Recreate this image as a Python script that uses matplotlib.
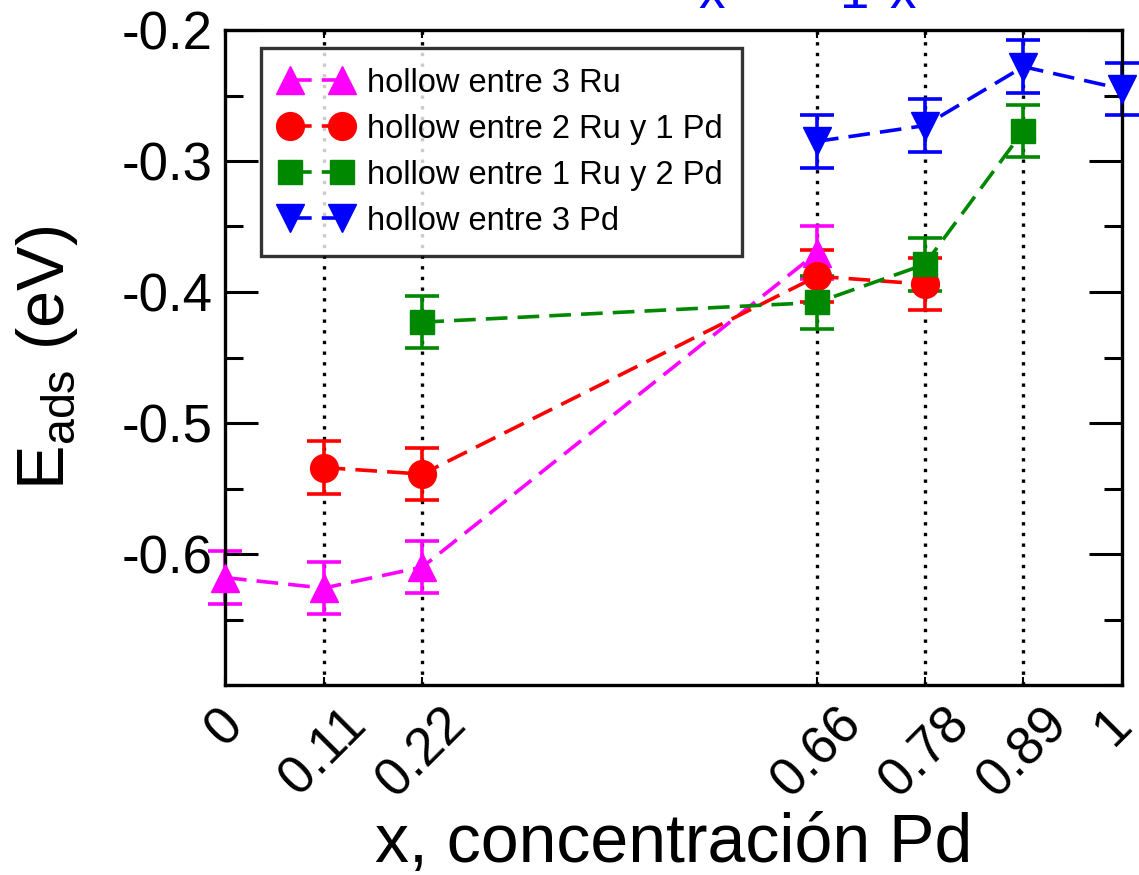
import matplotlib
matplotlib.use("Agg")
import matplotlib.pyplot as plt
from matplotlib.ticker import MultipleLocator
from matplotlib.transforms import ScaledTranslation

plt.rcParams['font.family'] = ['Liberation Sans', 'DejaVu Sans']
plt.rcParams['mathtext.fontset'] = 'custom'
plt.rcParams['mathtext.rm'] = 'Liberation Sans'

# --- data ---
x_ticks = [0, 0.11, 0.22, 0.66, 0.78, 0.89, 1]
x_tick_labels = ['0', '0.11', '0.22', '0.66', '0.78', '0.89', '1']
guide_x = [0.11, 0.22, 0.66, 0.78, 0.89]

x_3ru = [0, 0.11, 0.22, 0.66]
e_3ru = [-0.618, -0.626, -0.610, -0.370]

x_2ru1pd = [0.11, 0.22, 0.66, 0.78]
e_2ru1pd = [-0.534, -0.539, -0.388, -0.394]

x_1ru2pd = [0.22, 0.66, 0.78, 0.89]
e_1ru2pd = [-0.423, -0.408, -0.379, -0.277]

x_3pd = [0.66, 0.78, 0.89, 1]
e_3pd = [-0.285, -0.273, -0.228, -0.245]

err = 0.02

series = [
    (x_3ru, e_3ru, 'hollow entre 3 Ru', '#ff00ff', '^', 20),
    (x_2ru1pd, e_2ru1pd, 'hollow entre 2 Ru y 1 Pd', '#ff0000', 'o', 20),
    (x_1ru2pd, e_1ru2pd, 'hollow entre 1 Ru y 2 Pd', '#008800', 's', 17),
    (x_3pd, e_3pd, 'hollow entre 3 Pd', '#0000ff', 'v', 20),
]

fig = plt.figure(figsize=(11.39, 8.75), dpi=100)
ax = fig.add_axes([225 / 1139, 1 - 685 / 875, 897 / 1139, 655 / 875])

for gx in guide_x:
    ax.axvline(gx, color='black', linestyle=(0, (1, 2.2)), linewidth=2.4, zorder=1)

for xs, ys, label, color, marker, ms in series:
    ax.errorbar(xs, ys, yerr=err, fmt='none', ecolor=color, elinewidth=2.6,
                capsize=12, capthick=2.6, zorder=2, clip_on=False)
    ax.plot(xs, ys, linestyle=(0, (6, 2.8)), linewidth=2.6, color=color,
            marker=marker, markersize=ms, label=label, zorder=3, clip_on=False)

ax.set_xlim(0, 1)
ax.set_ylim(-0.7, -0.2)
ax.set_xticks(x_ticks)
ax.set_xticklabels(x_tick_labels, rotation=45, ha='center', va='top')
ax.yaxis.set_major_locator(MultipleLocator(0.1))
ax.yaxis.set_minor_locator(MultipleLocator(0.05))
ax.set_yticks([-0.2, -0.3, -0.4, -0.5, -0.6])
ax.set_yticklabels(['-0.2', '-0.3', '-0.4', '-0.5', '-0.6'])

ax.tick_params(axis='y', which='major', direction='in', length=24, width=2.2,
               labelsize=38, pad=9, left=True, right=True)
ax.tick_params(axis='y', which='minor', direction='in', length=13, width=2.2,
               left=True, right=True)
ax.tick_params(axis='x', which='major', direction='in', length=6, width=1.5,
               labelsize=38, pad=10, top=True, bottom=True)
for s in ax.spines.values():
    s.set_linewidth(2.4)

# last tick label sits at the right edge; pull it in a little
last = ax.get_xticklabels()[-1]
last.set_transform(last.get_transform() + ScaledTranslation(-9 / 100, 0, fig.dpi_scale_trans))

ax.set_xlabel('x, concentración Pd', fontsize=49, labelpad=4)
ax.set_ylabel(r'E$_\mathregular{ads}$ (eV)', fontsize=48, labelpad=30)

leg = ax.legend(loc='upper left', bbox_to_anchor=(0.040, 0.9725), numpoints=2,
                fontsize=23.5, handlelength=2.2, frameon=True, fancybox=False,
                borderpad=0.6, labelspacing=0.46, handletextpad=0.45,
                borderaxespad=0)
leg.get_frame().set_edgecolor('black')
leg.get_frame().set_linewidth(2.4)

# title cut off at the top of the original image
for tx, t in [(712, 'x'), (855, '1'), (903, 'x')]:
    fig.text(tx / 1139, 1 - 8 / 875, t, color='blue', fontsize=38,
             ha='center', va='baseline')

fig.savefig('out.png', dpi=100)
